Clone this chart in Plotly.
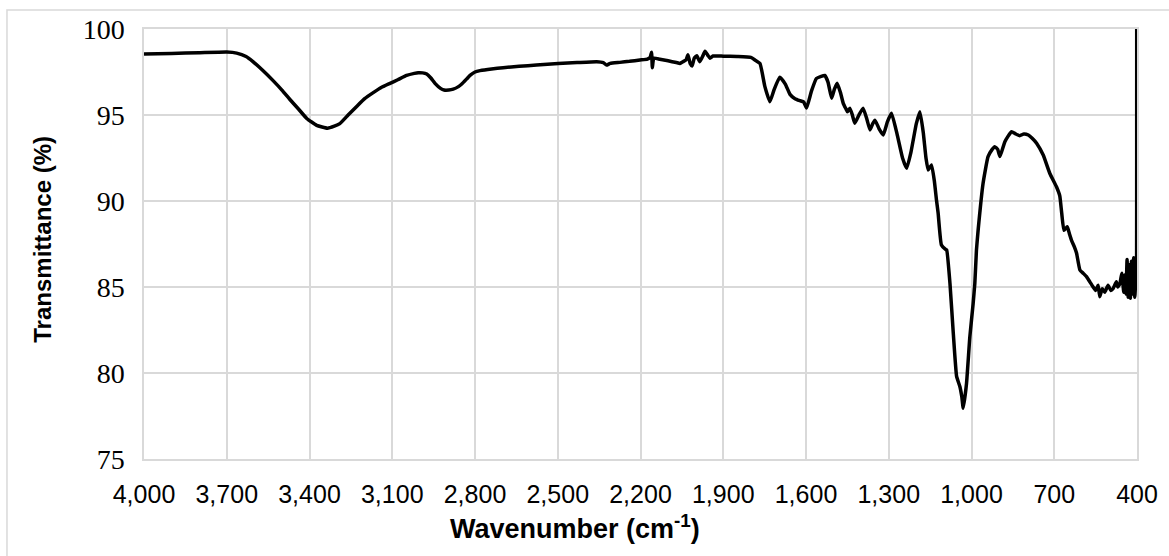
import plotly.graph_objects as go

wavenumber = [
    4000, 3900, 3800, 3700, 3664, 3630, 3605, 3570, 3532, 3500, 3471, 3440, 3410, 3374, 3335, 3310,
    3290, 3260, 3229, 3200, 3169, 3140, 3108, 3080, 3048, 3020, 3006, 2990, 2975, 2960, 2945, 2925,
    2912, 2895, 2879, 2860, 2848, 2830, 2818, 2800, 2782, 2740, 2698, 2640, 2577, 2498, 2430, 2359,
    2335, 2323, 2310, 2275, 2240, 2202, 2175, 2165, 2160, 2157, 2152, 2130, 2100, 2070, 2057, 2046,
    2035, 2028, 2020, 2013, 2005, 1996, 1985, 1975, 1966, 1955, 1948, 1937, 1900, 1850, 1800, 1785,
    1767, 1749, 1731, 1715, 1695, 1675, 1658, 1640, 1622, 1608, 1598, 1580, 1562, 1545, 1532, 1520,
    1507, 1497, 1487, 1475, 1465, 1455, 1450, 1441, 1432, 1423, 1408, 1393, 1380, 1368, 1358, 1350,
    1335, 1320, 1305, 1290, 1270, 1250, 1235, 1220, 1200, 1187, 1175, 1165, 1157, 1145, 1135, 1127,
    1121, 1109, 1095, 1090, 1078, 1066, 1054, 1042, 1035, 1030, 1018, 1006, 994, 988, 982, 976,
    958, 940, 925, 916, 905, 897, 879, 855, 840, 825, 810, 794, 780, 764, 740, 716,
    692, 680, 673, 665, 653, 645, 637, 625, 619, 607, 595, 583, 571, 559, 550, 541,
    535, 526, 517, 505, 495, 487, 475, 470, 462, 455, 448, 444, 440, 436, 432, 428,
    424, 420, 416, 412, 408, 404, 402, 401, 400,
]

transmittance = [
    98.55, 98.58, 98.62, 98.66, 98.6, 98.4, 98.1, 97.6, 97.0, 96.45, 95.9, 95.35, 94.8, 94.4, 94.23, 94.35,
    94.5, 95.0, 95.5, 95.95, 96.3, 96.6, 96.84, 97.05, 97.3, 97.42, 97.46, 97.45, 97.38, 97.15, 96.84, 96.55,
    96.45, 96.45, 96.5, 96.65, 96.8, 97.1, 97.3, 97.5, 97.58, 97.68, 97.75, 97.83, 97.9, 98.0, 98.05, 98.1,
    98.05, 97.9, 98.0, 98.06, 98.12, 98.2, 98.25, 98.35, 98.65, 97.75, 98.3, 98.24, 98.15, 98.05, 98.0, 98.1,
    98.2, 98.5, 98.0, 97.85, 98.3, 98.45, 98.1, 98.4, 98.7, 98.45, 98.3, 98.43, 98.42, 98.4, 98.35, 98.2,
    98.0, 96.65, 95.77, 96.5, 97.2, 96.8, 96.2, 95.95, 95.83, 95.75, 95.4, 96.4, 97.13, 97.25, 97.3, 96.9,
    95.97, 96.5, 96.84, 96.3, 95.68, 95.35, 95.19, 95.4, 95.0, 94.52, 95.0, 95.4, 94.8, 94.13, 94.5, 94.7,
    94.2, 93.84, 94.6, 95.1, 93.9, 92.5, 91.9, 92.8, 94.5, 95.19, 94.0, 92.5, 91.8, 92.1, 91.2, 90.06,
    89.3, 87.44, 87.2, 87.15, 85.2, 82.3, 79.8, 79.2, 78.6, 77.95, 79.4, 82.1, 84.05, 85.2, 87.15, 88.3,
    91.03, 92.58, 93.0, 93.16, 93.0, 92.58, 93.45, 94.03, 93.9, 93.8, 93.9, 93.84, 93.65, 93.36, 92.67, 91.6,
    90.83, 90.3, 89.3, 88.3, 88.5, 88.1, 87.7, 87.25, 86.96, 85.99, 85.8, 85.6, 85.3, 85.0, 84.8, 85.1,
    84.44, 84.9, 84.7, 85.1, 84.8, 84.9, 85.3, 85.0, 85.2, 85.8, 84.7, 85.7, 84.6, 86.6, 84.4, 86.3,
    84.35, 86.5, 84.6, 86.7, 84.4, 85.5, 85.0, 101.0, 85.0,
]

x_ticks = [4000, 3700, 3400, 3100, 2800, 2500, 2200, 1900, 1600, 1300, 1000, 700, 400]
x_tick_labels = ["4,000", "3,700", "3,400", "3,100", "2,800", "2,500", "2,200",
                 "1,900", "1,600", "1,300", "1,000", "700", "400"]
y_ticks = [75, 80, 85, 90, 95, 100]

x_title = "Wavenumber (cm<sup>-1</sup>)"
y_title = "Transmittance (%)"

grid = "#d9d9d9"

fig = go.Figure()
fig.add_trace(go.Scatter(
    x=wavenumber, y=transmittance, mode="lines",
    line=dict(color="black", width=3.5, shape="spline", smoothing=0.4),
    showlegend=False, hoverinfo="skip",
))

fig.update_layout(
    width=1169, height=556,
    margin=dict(l=144, r=32, t=29, b=97),
    paper_bgcolor="white", plot_bgcolor="white",
    xaxis=dict(
        range=[4000, 400], tickvals=x_ticks, ticktext=x_tick_labels,
        showgrid=True, gridcolor=grid, gridwidth=1.5,
        showline=True, linecolor=grid, linewidth=1.5, mirror=True,
        zeroline=False, ticks="", ticklabelstandoff=12,
        tickfont=dict(family="Liberation Sans, Arial", size=25, color="black"),
    ),
    yaxis=dict(
        range=[75, 100], tickvals=y_ticks,
        showgrid=True, gridcolor=grid, gridwidth=1.5,
        showline=True, linecolor=grid, linewidth=1.5, mirror=True,
        zeroline=False, ticks="", ticklabelstandoff=12,
        tickfont=dict(family="Liberation Serif, Times New Roman", size=28, color="black"),
    ),
    shapes=[dict(
        type="rect", xref="paper", yref="paper",
        x0=-0.138, y0=-0.3, x1=1.1, y1=1.0442,
        line=dict(color=grid, width=1.5), fillcolor="rgba(0,0,0,0)", layer="below",
    )],
    annotations=[
        dict(text="<b>" + y_title + "</b>", xref="paper", yref="paper",
             x=-0.1017, y=0.51, xanchor="center", yanchor="middle", textangle=-90,
             showarrow=False, font=dict(family="Liberation Sans, Arial", size=24, color="black")),
        dict(text="<b>" + x_title + "</b>", xref="paper", yref="paper",
             x=0.434, y=-0.158, xanchor="center", yanchor="middle",
             showarrow=False, font=dict(family="Liberation Sans, Arial", size=27, color="black")),
    ],
)

fig.write_html("out.html")
